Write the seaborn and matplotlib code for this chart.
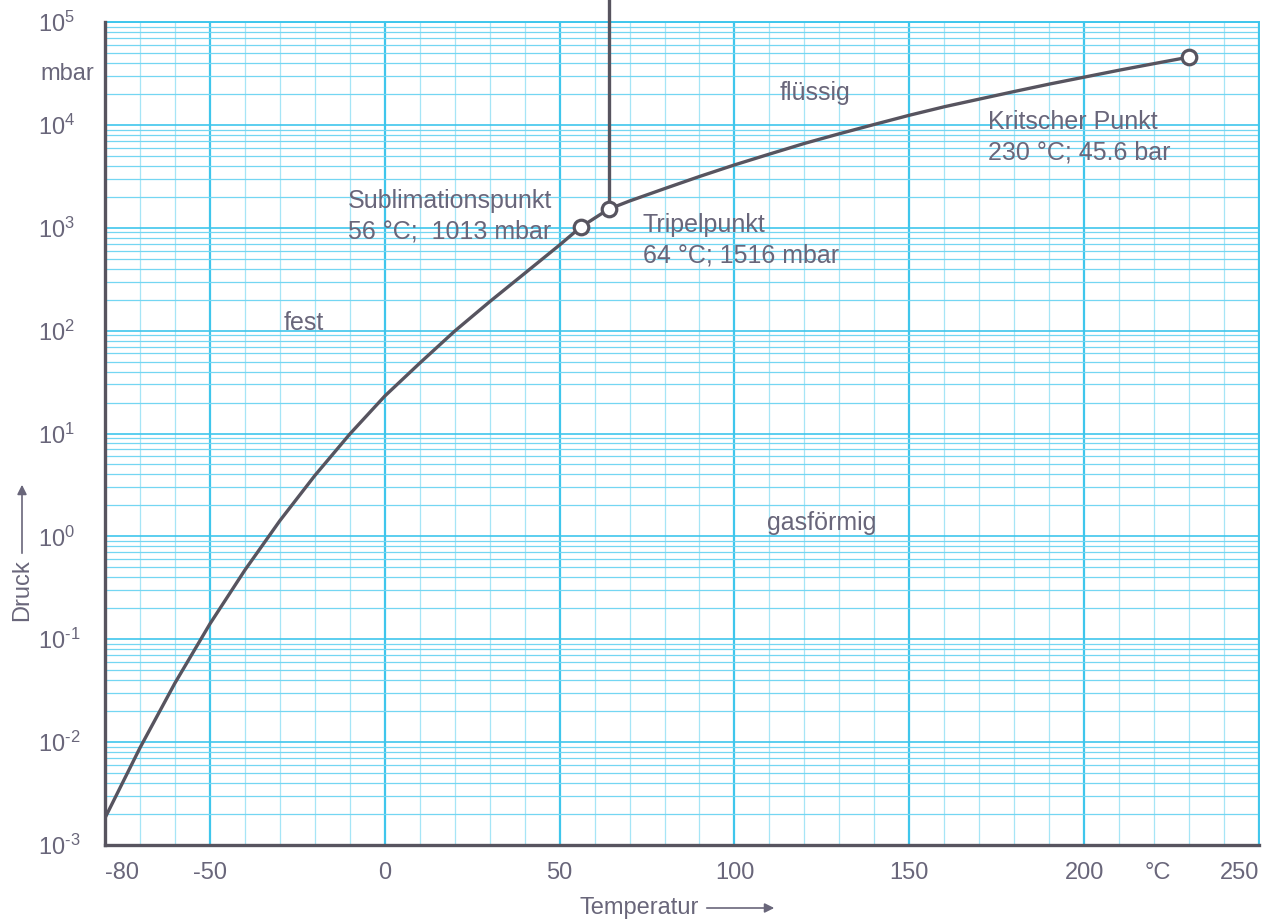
import matplotlib
matplotlib.use("Agg")
import matplotlib.pyplot as plt
import seaborn as sns
import numpy as np
from matplotlib.ticker import FixedLocator, MultipleLocator, LogLocator, NullFormatter

# Sublimation branch (solid - gas), up to the sublimation point at 1013 mbar
solid_t = [-80, -70, -60, -50, -40, -30, -20, -10, 0, 10, 20, 30, 40, 50, 56]
solid_p = [0.00183, 0.0088, 0.0375, 0.141, 0.47, 1.42, 3.9, 9.87, 23.1, 48.3,
           98.9, 191, 360, 680, 1013]

# Between sublimation point and triple point
mid_t = [56, 64]
mid_p = [1013, 1516]

# Boiling branch (liquid - gas), triple point to critical point
liquid_t = [64, 70, 80, 90, 100, 110, 120, 130, 140, 150, 160, 170, 180, 190,
            200, 210, 220, 230]
liquid_p = [1516, 1820, 2400, 3150, 4080, 5200, 6600, 8200, 10100, 12400, 15000,
            17800, 21100, 24900, 29100, 34000, 39400, 45600]

# Marked points: sublimation point, triple point, critical point
point_t = [56, 64, 230]
point_p = [1013, 1516, 45600]

# Melting line starting at the triple point
melt_t = [64, 64]
melt_p = [1516, 10 ** 5.22]

x_ticks = [-80, -50, 0, 50, 100, 150, 200, 250]
x_tick_labels = ["-80", "-50", "0", "50", "100", "150", "200", "250"]
y_exponents = [-3, -2, -1, 0, 1, 2, 3, 4, 5]

region_labels = [("fest", -29.0, 118), ("flüssig", 113.0, 20300), ("gasförmig", 109.3, 1.35)]
point_labels = [("Sublimationspunkt\n56 °C;  1013 mbar", -10.5, 1300),
                ("Tripelpunkt\n64 °C; 1516 mbar", 73.8, 760),
                ("Kritscher Punkt\n230 °C; 45.6 bar", 172.5, 7600)]

sns.set_style("white")
plt.rcParams["font.family"] = ["Liberation Sans", "DejaVu Sans"]
plt.rcParams["mathtext.fontset"] = "custom"
plt.rcParams["mathtext.rm"] = "Liberation Sans"
plt.rcParams["mathtext.it"] = "Liberation Sans:italic"
plt.rcParams["mathtext.bf"] = "Liberation Sans:bold"

TEXT = "#69667a"
CURVE = "#57545f"
CYAN_MAJOR = "#3fc6ec"
CYAN_MINOR_H = "#74d6f2"
CYAN_MINOR_V = "#a6e5f6"

W, H = 1266, 922
fig = plt.figure(figsize=(W / 100, H / 100), dpi=100)
fig.patch.set_facecolor("white")
ax = fig.add_axes([105 / W, 1 - 845 / H, (1259 - 105) / W, (845 - 22) / H])

ax.set_yscale("log")
ax.set_xlim(-80, 250)
ax.set_ylim(1e-3, 1e5)

# Graph-paper grid
ax.xaxis.set_major_locator(FixedLocator(x_ticks))
ax.xaxis.set_minor_locator(MultipleLocator(10))
ax.yaxis.set_major_locator(FixedLocator([10.0 ** e for e in y_exponents]))
ax.yaxis.set_minor_locator(LogLocator(base=10, subs=np.arange(2, 10), numticks=50))
ax.yaxis.set_minor_formatter(NullFormatter())
ax.set_axisbelow(True)
ax.grid(True, which="major", axis="x", color=CYAN_MAJOR, lw=1.6)
ax.grid(True, which="minor", axis="x", color=CYAN_MINOR_V, lw=0.9)
ax.grid(True, which="major", axis="y", color=CYAN_MAJOR, lw=1.2)
ax.grid(True, which="minor", axis="y", color=CYAN_MINOR_H, lw=0.9)

# Phase boundaries
for tt, pp in ((solid_t, solid_p), (mid_t, mid_p), (liquid_t, liquid_p)):
    sns.lineplot(x=tt, y=pp, ax=ax, color=CURVE, lw=2.4, sort=False,
                 estimator=None, zorder=3, solid_joinstyle="round")
ax.plot(melt_t, melt_p, color=CURVE, lw=2.4, clip_on=False, zorder=3,
        solid_capstyle="butt")
sns.scatterplot(x=point_t, y=point_p, ax=ax, s=110, color="white",
                edgecolor=CURVE, linewidth=2.3, zorder=5, clip_on=False)

# Spines
for side in ("left", "bottom"):
    ax.spines[side].set_color(CURVE)
    ax.spines[side].set_linewidth(2.4)
    ax.spines[side].set_zorder(4)
for side in ("top", "right"):
    ax.spines[side].set_color(CYAN_MAJOR)
    ax.spines[side].set_linewidth(1.4)

# Tick labels
ax.tick_params(axis="both", which="both", length=0)
ax.set_xticklabels(x_tick_labels, fontsize=17, color=TEXT)
xlabels = ax.get_xticklabels()
xlabels[0].set_ha("left")
xlabels[-1].set_ha("right")
ax.tick_params(axis="x", pad=12)


def decade_label(e):
    exp = str(e) if e >= 0 else r"\text{-}" + str(-e)
    return r"$\mathregular{10^{%s}}$" % exp


ax.set_yticklabels([decade_label(e) for e in y_exponents], fontsize=17, color=TEXT)
for lbl in ax.get_yticklabels():
    lbl.set_ha("left")
ax.tick_params(axis="y", pad=48)

# Units and axis titles
fig.text(40 / W, 1 - 74 / H, "mbar", fontsize=17, color=TEXT, ha="left", va="center")
fig.text(1158 / W, 1 - 873 / H, "°C", fontsize=17, color=TEXT, ha="center", va="center")
fig.text(579 / W, 1 - 908 / H, "Temperatur", fontsize=17, color=TEXT, ha="left", va="center")
ax.annotate("", xy=(777 / W, 1 - 908 / H), xytext=(704 / W, 1 - 908 / H),
            xycoords="figure fraction", textcoords="figure fraction",
            arrowprops=dict(arrowstyle="-|>", color=TEXT, lw=1.2, mutation_scale=14),
            annotation_clip=False)
fig.text(22 / W, 1 - 590 / H, "Druck", fontsize=17, color=TEXT, ha="center",
         va="center", rotation=90)
ax.annotate("", xy=(22 / W, 1 - 482 / H), xytext=(22 / W, 1 - 556 / H),
            xycoords="figure fraction", textcoords="figure fraction",
            arrowprops=dict(arrowstyle="-|>", color=TEXT, lw=1.2, mutation_scale=14),
            annotation_clip=False)

# Region and point annotations
for text, x, y in region_labels:
    ax.text(x, y, text, fontsize=18, color=TEXT, ha="left", va="center")
for text, x, y in point_labels:
    ax.text(x, y, text, fontsize=18, color=TEXT, ha="left", va="center",
            linespacing=1.35)

fig.savefig("out.png", dpi=100, facecolor="white")
